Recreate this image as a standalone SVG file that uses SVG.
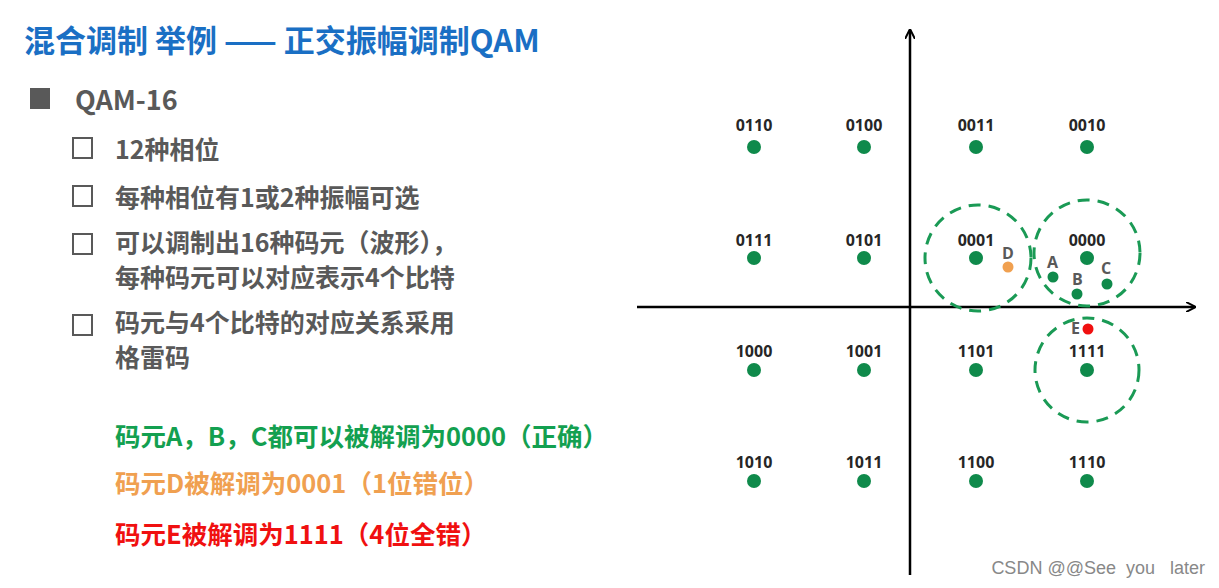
<svg xmlns="http://www.w3.org/2000/svg" width="1219" height="588" viewBox="0 0 1219 588">
<style>
text{font-family:"Noto Sans CJK SC","Liberation Sans",sans-serif;font-weight:bold}
.t{font-size:25px;fill:#595959}
.l{font-size:16px;fill:#262626;text-anchor:middle;font-family:"Open Sans","Liberation Sans",sans-serif}
.p{fill:#0f8a4b}
.r{fill:none;stroke:#1a9a55;stroke-width:3;stroke-dasharray:12 8}
.b{fill:none;stroke:#595959;stroke-width:2}
.s{font-size:16px;fill:#595959;font-family:"Open Sans","Liberation Sans",sans-serif}
</style>
<defs><marker id="ar" markerWidth="10" markerHeight="10" refX="9" refY="5" orient="auto" markerUnits="userSpaceOnUse"><path d="M0,0 L10,5 L0,10" fill="none" stroke="#000" stroke-width="2"/></marker></defs>
<rect width="1219" height="588" fill="#fff"/>
<text x="24" y="52" font-size="31" fill="#1a6fc4">混合调制 举例 —— 正交振幅调制QAM</text>
<rect x="30" y="88" width="20" height="21" fill="#595959"/>
<text class="t" x="75" y="110" style="font-size:27px">QAM-16</text>
<rect class="b" x="73" y="138" width="19" height="20"/>
<text class="t" x="115" y="159">12种相位</text>
<rect class="b" x="73" y="186" width="19" height="20"/>
<text class="t" x="115" y="207">每种相位有1或2种振幅可选</text>
<rect class="b" x="73" y="234" width="19" height="20"/>
<text class="t" x="115" y="252">可以调制出16种码元（波形），</text>
<text class="t" x="115" y="287">每种码元可以对应表示4个比特</text>
<rect class="b" x="73" y="315" width="19" height="20"/>
<text class="t" x="115" y="332">码元与4个比特的对应关系采用</text>
<text class="t" x="115" y="367">格雷码</text>
<text x="115" y="446" font-size="25.5" fill="#13a050">码元A，B，C都可以被解调为0000（正确）</text>
<text x="115" y="493" font-size="25.5" fill="#f0a050">码元D被解调为0001（1位错位）</text>
<text x="115" y="544" font-size="25.5" fill="#f01010">码元E被解调为1111（4位全错）</text>
<g id="connectors" stroke="#000" stroke-width="2.5">
<line x1="910" y1="575" x2="910" y2="30" marker-end="url(#ar)"/>
<line x1="637" y1="307" x2="1195" y2="307" marker-end="url(#ar)"/>
</g>
<g id="regions">
<circle class="r" cx="978" cy="258" r="53"/>
<circle class="r" cx="1087" cy="253" r="53"/>
<circle class="r" cx="1087" cy="370" r="52"/>
</g>
<g id="points">
<g id="n0110"><circle class="p" cx="754" cy="147" r="7"/><text class="l" x="754" y="131">0110</text></g>
<g id="n0100"><circle class="p" cx="864" cy="147" r="7"/><text class="l" x="864" y="131">0100</text></g>
<g id="n0011"><circle class="p" cx="976" cy="147" r="7"/><text class="l" x="976" y="131">0011</text></g>
<g id="n0010"><circle class="p" cx="1087" cy="147" r="7"/><text class="l" x="1087" y="131">0010</text></g>
<g id="n0111"><circle class="p" cx="754" cy="258" r="7"/><text class="l" x="754" y="246">0111</text></g>
<g id="n0101"><circle class="p" cx="864" cy="258" r="7"/><text class="l" x="864" y="246">0101</text></g>
<g id="n0001"><circle class="p" cx="976" cy="258" r="7"/><text class="l" x="976" y="246">0001</text></g>
<g id="n0000"><circle class="p" cx="1087" cy="258" r="7"/><text class="l" x="1087" y="246">0000</text></g>
<g id="n1000"><circle class="p" cx="754" cy="370" r="7"/><text class="l" x="754" y="357">1000</text></g>
<g id="n1001"><circle class="p" cx="864" cy="370" r="7"/><text class="l" x="864" y="357">1001</text></g>
<g id="n1101"><circle class="p" cx="976" cy="370" r="7"/><text class="l" x="976" y="357">1101</text></g>
<g id="n1111"><circle class="p" cx="1087" cy="370" r="7"/><text class="l" x="1087" y="357">1111</text></g>
<g id="n1010"><circle class="p" cx="754" cy="481" r="7"/><text class="l" x="754" y="468">1010</text></g>
<g id="n1011"><circle class="p" cx="864" cy="481" r="7"/><text class="l" x="864" y="468">1011</text></g>
<g id="n1100"><circle class="p" cx="976" cy="481" r="7"/><text class="l" x="976" y="468">1100</text></g>
<g id="n1110"><circle class="p" cx="1087" cy="481" r="7"/><text class="l" x="1087" y="468">1110</text></g>
</g>
<g id="symbols">
<g id="D"><circle cx="1008" cy="267" r="5.5" fill="#f0a050"/><text class="s" x="1002" y="259">D</text></g>
<g id="A"><circle class="p" cx="1053" cy="277" r="5.5"/><text class="s" x="1047" y="268">A</text></g>
<g id="B"><circle class="p" cx="1077" cy="294" r="5.5"/><text class="s" x="1072" y="285">B</text></g>
<g id="C"><circle class="p" cx="1107" cy="284" r="5.5"/><text class="s" x="1101" y="274">C</text></g>
<g id="E"><circle cx="1088" cy="329" r="5.5" fill="#f01010"/><text class="s" x="1071" y="334">E</text></g>
</g>
<text x="1205" y="574" font-size="18" fill="#888" text-anchor="end" style="font-weight:normal;font-family:'Liberation Sans',sans-serif" xml:space="preserve">CSDN @@See  you   later</text>
</svg>
